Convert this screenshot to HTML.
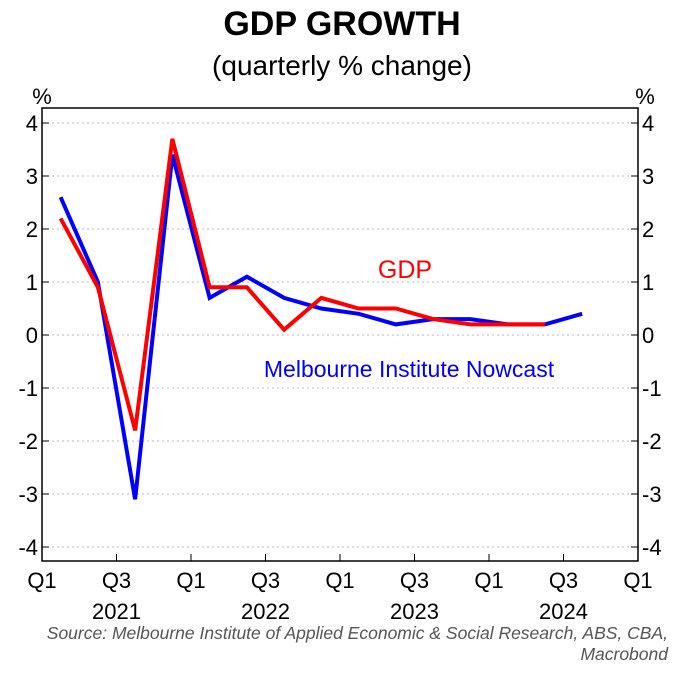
<!DOCTYPE html>
<html><head><meta charset="utf-8"><style>
body{margin:0;background:#fff}
svg text{font-family:"Liberation Sans",Arial,sans-serif}
</style></head><body>
<svg width="684" height="668" viewBox="0 0 684 668">
<text x="342" y="35" text-anchor="middle" font-size="34" font-weight="bold">GDP GROWTH</text>
<text x="342" y="75" text-anchor="middle" font-size="28">(quarterly % change)</text>
<text x="42" y="104" text-anchor="middle" font-size="22">%</text>
<text x="645" y="104" text-anchor="middle" font-size="22">%</text>
<g id="grid"></g>
<rect x="42" y="108" width="596" height="453" fill="none" stroke="#000" stroke-width="1.5"/>
<g id="axes"></g>
<g id="series"></g>
<text x="405" y="278" text-anchor="middle" font-size="25" fill="#ff0000">GDP</text>
<text x="409" y="377" text-anchor="middle" font-size="23" fill="#0000ff">Melbourne Institute Nowcast</text>
<text x="668" y="639" text-anchor="end" font-size="17.5" font-style="italic" fill="#555">Source: Melbourne Institute of Applied Economic &amp; Social Research, ABS, CBA,</text>
<text x="668" y="660" text-anchor="end" font-size="17.5" font-style="italic" fill="#555">Macrobond</text>
</svg>
<script>
const yTicks=[4,3,2,1,0,-1,-2,-3,-4];
const xTickLabels=["Q1","Q3","Q1","Q3","Q1","Q3","Q1","Q3","Q1"];
const yearLabels=["2021","2022","2023","2024"];
const nowcast=[2.6,1.0,-3.1,3.4,0.7,1.1,0.7,0.5,0.4,0.2,0.3,0.3,0.2,0.2,0.4];
const gdp=[2.2,0.9,-1.8,3.7,0.9,0.9,0.1,0.7,0.5,0.5,0.3,0.2,0.2,0.2];
const NS="http://www.w3.org/2000/svg";
const L=42,R=638,T=108,B=561;
const y=v=>335-v*53;
const xq=i=>L+(i+0.5)*37.25;
function mk(tag,attrs,parent){const e=document.createElementNS(NS,tag);for(const k in attrs)e.setAttribute(k,attrs[k]);document.getElementById(parent).appendChild(e);return e;}
yTicks.forEach(v=>{
  const g=mk('line',{x1:L,x2:R,y1:y(v),y2:y(v),stroke:'#bbb','stroke-dasharray':'2,3'},'grid');
  
  
  [[L,L+7],[R-7,R]].forEach(p=>{const t=mk('line',{x1:p[0],x2:p[1],y1:y(v),y2:y(v),stroke:'#000'},'axes');
    
    });
  const a=mk('text',{x:L-4,y:y(v)+8,'text-anchor':'end','font-size':22},'axes');a.textContent=v;
  
  
  const b=mk('text',{x:R+4,y:y(v)+8,'font-size':22},'axes');b.textContent=v;
  
  
});
xTickLabels.forEach((s,i)=>{
  const x=L+i*74.5;
  const t=mk('line',{x1:x,x2:x,y1:B,y2:B-7,stroke:'#000'},'axes');
  
  
  const tx=mk('text',{x:x,y:588,'text-anchor':'middle','font-size':22},'axes');tx.textContent=s;
  
  
});
yearLabels.forEach((s,i)=>{
  const tx=mk('text',{x:L+74.5+i*149,y:619,'text-anchor':'middle','font-size':22},'axes');tx.textContent=s;
  
  
});
function line(data,color,name){
  const p=mk('polyline',{points:data.map((v,i)=>xq(i)+','+y(v)).join(' '),fill:'none',stroke:color,'stroke-width':4,'stroke-linejoin':'miter'},'series');
  
  
}
line(nowcast,'#0000ff','nowcast-line');
line(gdp,'#ff0000','gdp-line');
</script>
</body></html>
